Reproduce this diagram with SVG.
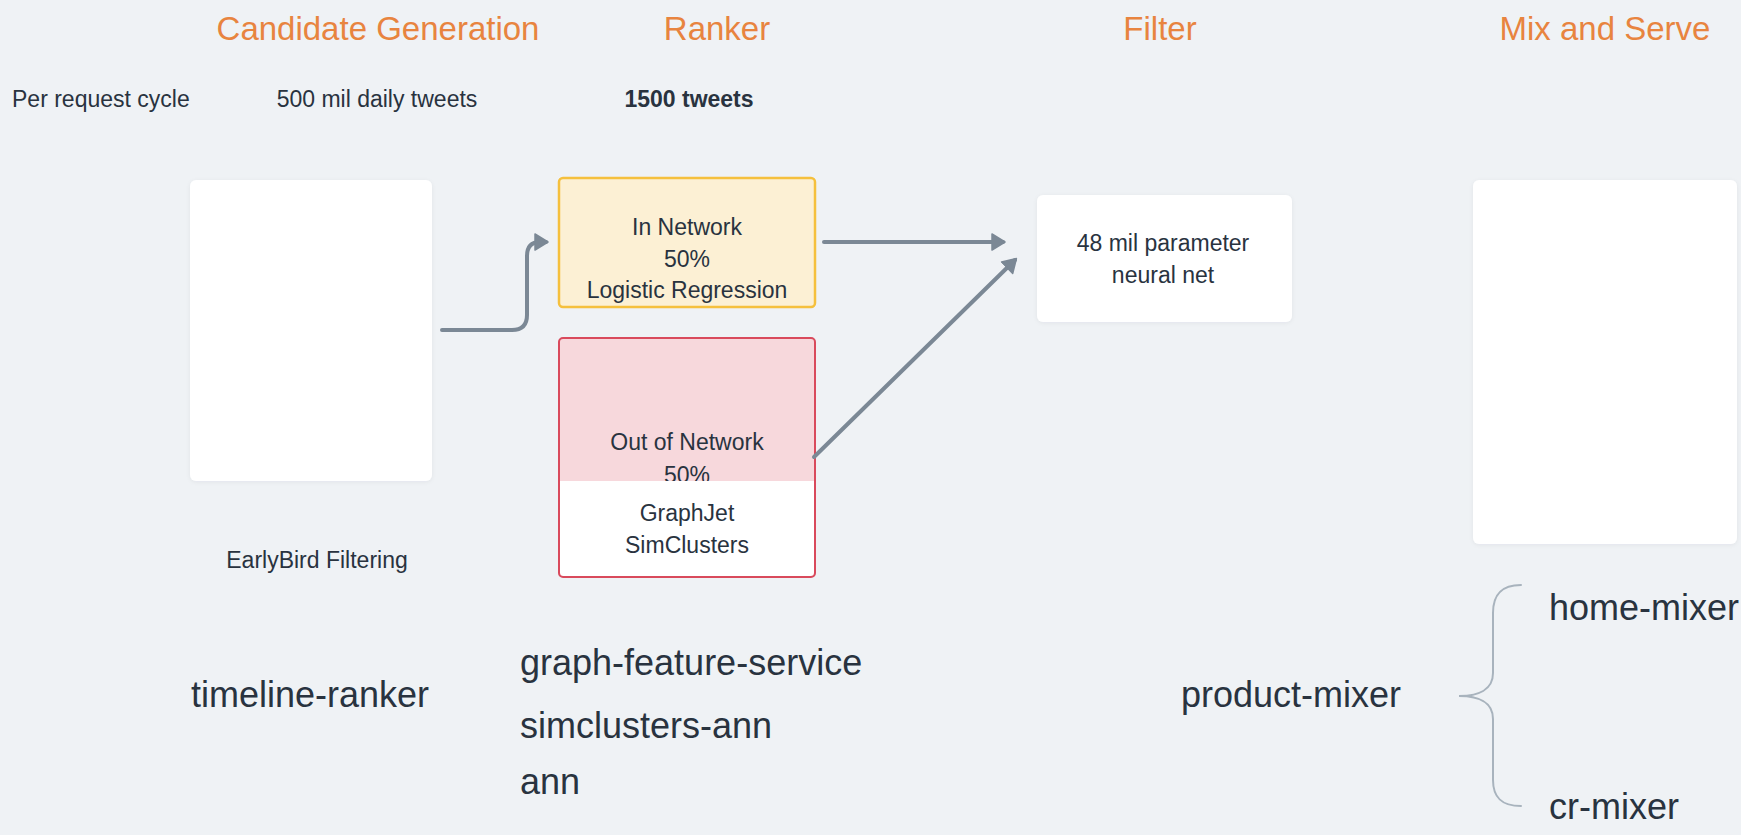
<svg xmlns="http://www.w3.org/2000/svg" width="1741" height="835" viewBox="0 0 1741 835">
  <style>
    .title { font-family: "Liberation Sans", Arial, sans-serif; font-size: 33px; fill: #e8843f; text-anchor: middle; }
    .small { font-family: "Liberation Sans", Arial, sans-serif; font-size: 23px; fill: #29333f; }
    .box { font-family: "Liberation Sans", Arial, sans-serif; font-size: 23px; fill: #29333f; text-anchor: middle; }
    .big { font-family: "Liberation Sans", Arial, sans-serif; font-size: 36px; fill: #29333f; }
    .card { fill: #ffffff; filter: url(#shadow); }
    .conn { fill: none; stroke: #7b8895; stroke-width: 4; stroke-linecap: round; stroke-linejoin: round; }
    .brace { fill: none; stroke: #a8b3bd; stroke-width: 2; stroke-linecap: round; }
  </style>
  <defs>
    <filter id="shadow" x="-10%" y="-10%" width="120%" height="120%">
      <feDropShadow dx="0" dy="1" stdDeviation="2" flood-color="#1f2d3d" flood-opacity="0.06"/>
    </filter>
    <marker id="arrow" markerUnits="userSpaceOnUse" markerWidth="16" markerHeight="19" viewBox="0 0 16 19" refX="12" refY="9.5" orient="auto">
      <path d="M1,1.5 L14,9.5 L1,17.5 Z" fill="#7b8895" stroke="#7b8895" stroke-width="1.5" stroke-linejoin="round"/>
    </marker>
  </defs>

  <rect x="0" y="0" width="1741" height="835" fill="#eff2f5"/>

  <g id="titles">
    <text class="title" x="378" y="40">Candidate Generation</text>
    <text class="title" x="717" y="40">Ranker</text>
    <text class="title" x="1160" y="40">Filter</text>
    <text class="title" x="1605" y="40">Mix and Serve</text>
  </g>

  <g id="counts">
    <text class="small" x="12" y="107">Per request cycle</text>
    <text class="small" x="377" y="107" text-anchor="middle">500 mil daily tweets</text>
    <text class="small" x="689" y="107" text-anchor="middle" font-weight="bold">1500 tweets</text>
  </g>

  <g id="earlybird">
    <rect class="card" x="190" y="180" width="242" height="301" rx="6"/>
    <text class="box" x="317" y="568">EarlyBird Filtering</text>
  </g>

  <g id="in-network">
    <rect x="559" y="178" width="256" height="129" rx="4" fill="#fcf0d4" stroke="#f5c03d" stroke-width="2.5"/>
    <text class="box" x="687" y="235">In Network</text>
    <text class="box" x="687" y="267">50%</text>
    <text class="box" x="687" y="298">Logistic Regression</text>
  </g>

  <g id="out-network">
    <rect x="559" y="338" width="256" height="239" rx="4" fill="#f7d8dc"/>
    <text class="box" x="687" y="450">Out of Network</text>
    <text class="box" x="687" y="483">50%</text>
    <path d="M560,481 H814 V572 Q814,576 810,576 H564 Q560,576 560,572 Z" fill="#ffffff"/>
    <rect x="559" y="338" width="256" height="239" rx="4" fill="none" stroke="#d94a5c" stroke-width="2"/>
    <text class="box" x="687" y="521">GraphJet</text>
    <text class="box" x="687" y="553">SimClusters</text>
  </g>

  <g id="neural-net">
    <rect class="card" x="1037" y="195" width="255" height="127" rx="6"/>
    <text class="box" x="1163" y="251">48 mil parameter</text>
    <text class="box" x="1163" y="283">neural net</text>
  </g>

  <g id="mix-serve">
    <rect class="card" x="1473" y="180" width="264" height="364" rx="6"/>
  </g>

  <g id="connectors">
    <path class="conn" d="M442,330 H512 Q527,330 527,315 V256 Q527,242 540,242 H546" marker-end="url(#arrow)"/>
    <path class="conn" d="M824,242 H1003" marker-end="url(#arrow)"/>
    <path class="conn" d="M814,457 L1015,260" marker-end="url(#arrow)"/>
  </g>

  <g id="services">
    <text class="big" x="191" y="707">timeline-ranker</text>
    <text class="big" x="520" y="675">graph-feature-service</text>
    <text class="big" x="520" y="738">simclusters-ann</text>
    <text class="big" x="520" y="794">ann</text>
  </g>

  <g id="mixers">
    <text class="big" x="1181" y="707">product-mixer</text>
    <path class="brace" d="M1521,585 C1501,585 1493,595 1493,613 V673 C1493,690 1478,696 1459,696 C1478,696 1493,702 1493,719 V780 C1493,797 1501,806 1521,806"/>
    <text class="big" x="1549" y="620">home-mixer</text>
    <text class="big" x="1549" y="819">cr-mixer</text>
  </g>
</svg>
